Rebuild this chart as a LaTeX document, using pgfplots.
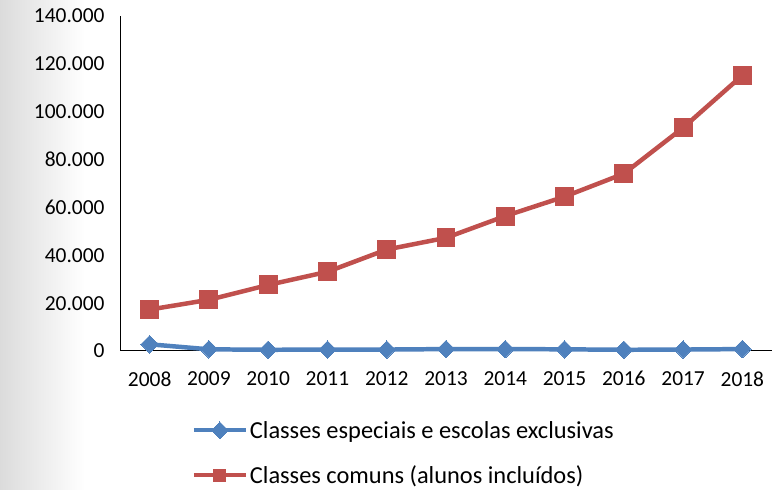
\documentclass[border=0pt]{standalone}
\usepackage{pgfplots}
\pgfplotsset{compat=1.18}
\usepackage{fontspec}
\setmainfont{Carlito}
\definecolor{exred}{HTML}{C0504D}
\definecolor{exblue}{HTML}{4F81BD}
\pgfplotstableread{
year esp com
0 2800 17300
1 700 21400
2 500 27600
3 600 33100
4 600 42400
5 800 47300
6 800 56400
7 700 64500
8 500 74100
9 600 93300
10 800 115200
}\datatable
\begin{document}
\begin{tikzpicture}[x=1bp,y=1bp]
\useasboundingbox (0,0) rectangle (777,490);
\fill[white] (0,0) rectangle (777,490);
\shade[left color=black!14, right color=white] (0,0) rectangle (85,490);
\begin{axis}[
  at={(120bp,139bp)}, anchor=south west,
  scale only axis, width=652bp, height=335bp,
  xmin=-0.5, xmax=10.5, ymin=0, ymax=140000,
  scaled y ticks=false,
  axis x line*=bottom, axis y line*=left,
  axis line style={black, line width=1pt, -},
  xtick={0,...,10},
  xticklabels={2008,2009,2010,2011,2012,2013,2014,2015,2016,2017,2018},
  ytick={0,20000,40000,60000,80000,100000,120000,140000},
  yticklabels={0,20.000,40.000,60.000,80.000,100.000,120.000,140.000},
  major tick length=0pt,
  tick label style={font=\fontsize{21.5}{26}\selectfont, black},
  xticklabel style={yshift=-17bp},
  yticklabel style={xshift=-12bp},
  clip=false,
  legend style={at={(0.11,-0.203)}, anchor=north west, draw=none, fill=none,
    font=\fontsize{24.5}{28}\selectfont, row sep=22bp, cells={anchor=west},
    inner sep=0pt},
  legend cell align=left,
  legend image code/.code={
    \draw[#1, line width=4pt, mark repeat=2, mark phase=2, mark size=6pt] plot coordinates {(0bp,0bp) (26bp,0bp) (52bp,0bp)};
  },
]
\addplot[exblue, line width=4.5pt, mark=square*, mark size=6.2pt, mark options={line width=0pt, rotate=45}] table[x=year, y=esp] {\datatable};
\addlegendentry{Classes especiais e escolas exclusivas}
\addplot[exred, line width=4.5pt, mark=square*, mark size=9pt, mark options={line width=0pt}] table[x=year, y=com] {\datatable};
\addlegendentry{Classes comuns (alunos incluídos)}
\end{axis}
\end{tikzpicture}
\end{document}
